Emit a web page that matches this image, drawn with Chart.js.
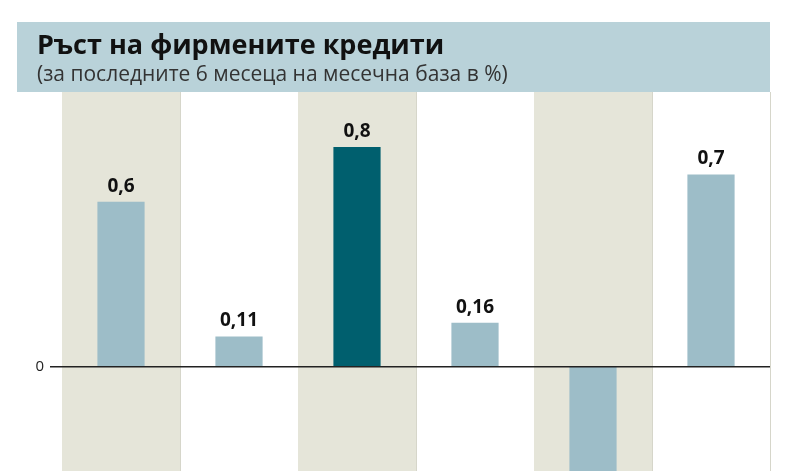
<!DOCTYPE html>
<html>
<head>
<meta charset="utf-8">
<script src="https://cdn.jsdelivr.net/npm/chart.js@4"></script>
<style>
  html, body { margin: 0; padding: 0; background: #fff; }
  #wrap { width: 800px; height: 471px; position: relative; }
</style>
</head>
<body>
<div id="wrap"><canvas id="chart"></canvas></div>
<script>
// Data (the 5th value is cut off, estimated)
const months = ['1', '2', '3', '4', '5', '6'];
const growth = [0.6, 0.11, 0.8, 0.16, -0.5, 0.7];
const valueLabels = ['0,6', '0,11', '0,8', '0,16', '', '0,7'];
const highlightIndex = 2;

const TITLE = 'Ръст на фирмените кредити';
const SUBTITLE = '(за последните 6 месеца на месечна база в %)';
const NARROW = '"Liberation Sans Narrow", "Open Sans", sans-serif';

// Background bands, header and zero line
const decor = {
    id: 'decor',
    beforeDatasetsDraw(chart) {
        const { ctx, chartArea: a, scales: { x } } = chart;
        ctx.save();
        const step = x.getPixelForValue(1) - x.getPixelForValue(0);
        months.forEach((m, i) => {
            const left = x.getPixelForValue(i) - step / 2;
            if (i % 2 === 0) {
                ctx.fillStyle = '#e5e5d9';
                ctx.fillRect(left, a.top, step, a.bottom - a.top);
            }
            ctx.strokeStyle = '#d6d6ca';
            ctx.lineWidth = 1;
            ctx.beginPath();
            ctx.moveTo(left + step + 0.5, a.top);
            ctx.lineTo(left + step + 0.5, a.bottom);
            ctx.stroke();
        });
        ctx.restore();
    },
    afterDatasetsDraw(chart) {
        const { ctx, chartArea: a, scales: { x, y } } = chart;
        ctx.save();
        // header band
        ctx.fillStyle = '#b9d2d9';
        ctx.fillRect(17, 22, a.right - 17, a.top - 22);
        ctx.fillStyle = '#111';
        ctx.textBaseline = 'alphabetic';
        ctx.font = 'bold 27px ' + NARROW;
        ctx.fillText(TITLE, 37, 54);
        ctx.fillStyle = '#333';
        ctx.font = '21px ' + NARROW;
        ctx.fillText(SUBTITLE, 37, 81);
        // zero line
        const y0 = y.getPixelForValue(0);
        ctx.strokeStyle = '#222';
        ctx.lineWidth = 1.5;
        ctx.beginPath();
        ctx.moveTo(50, y0);
        ctx.lineTo(a.right, y0);
        ctx.stroke();
        ctx.fillStyle = '#222';
        ctx.font = '15px "Open Sans", sans-serif';
        ctx.textAlign = 'right';
        ctx.textBaseline = 'middle';
        ctx.fillText('0', 44, y0);
        // value labels
        ctx.textAlign = 'center';
        ctx.textBaseline = 'bottom';
        ctx.font = 'bold 19px "Open Sans", sans-serif';
        ctx.fillStyle = '#111';
        growth.forEach((v, i) => {
            if (!valueLabels[i]) return;
            ctx.fillText(valueLabels[i], x.getPixelForValue(i), y.getPixelForValue(v) - 6);
        });
        ctx.restore();
    }
};

new Chart(document.getElementById('chart'), {
    type: 'bar',
    data: {
        labels: months,
        datasets: [{
            data: growth,
            backgroundColor: growth.map((v, i) => i === highlightIndex ? '#005f6e' : '#9dbdc8'),
            categoryPercentage: 1,
            barPercentage: 0.4
        }]
    },
    options: {
        responsive: true,
        maintainAspectRatio: false,
        animation: false,
        layout: { padding: { left: 62, right: 30, top: 92, bottom: 0 } },
        plugins: { legend: { display: false }, tooltip: { enabled: false } },
        scales: {
            x: { display: false },
            y: { display: false, min: -0.38, max: 1.0 }
        }
    },
    plugins: [decor]
});
</script>
</body>
</html>
